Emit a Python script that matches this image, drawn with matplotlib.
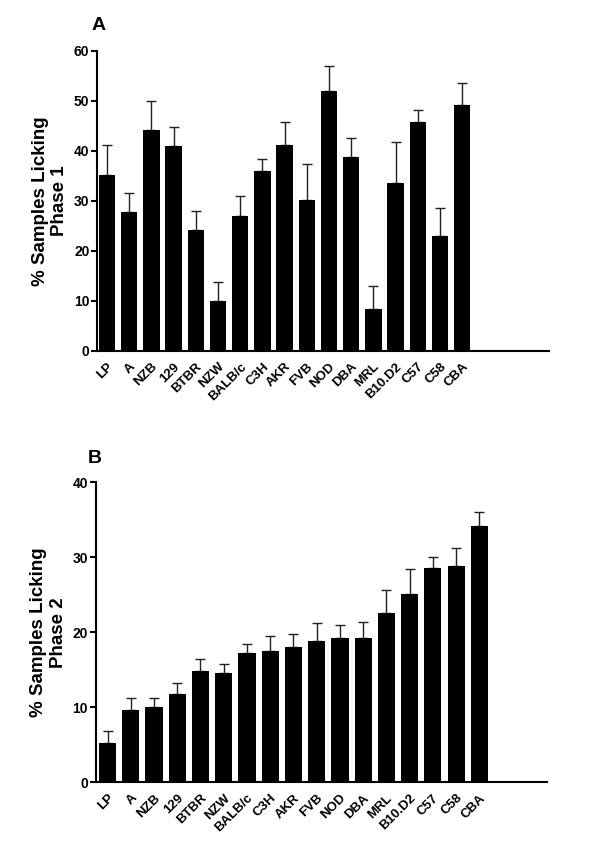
import numpy as np
import matplotlib
matplotlib.use('Agg')
import matplotlib.pyplot as plt

plt.rcParams['font.family'] = ['Liberation Sans', 'DejaVu Sans']
plt.rcParams['font.weight'] = 'bold'

strains_1 = ['LP', 'A', 'NZB', '129', 'BTBR', 'NZW', 'BALB/c', 'C3H', 'AKR', 'FVB',
             'NOD', 'DBA', 'MRL', 'B10.D2', 'C57', 'C58', 'CBA']
phase_1 = [35.2, 27.7, 44.1, 40.9, 24.1, 10.0, 26.9, 35.9, 41.1, 30.1,
           51.9, 38.7, 8.3, 33.5, 45.7, 23.0, 49.2]
phase_1_top = [41.1, 31.5, 49.9, 44.7, 28.0, 13.8, 31.0, 38.4, 45.7, 37.3,
               57.0, 42.5, 12.9, 41.7, 48.1, 28.6, 53.6]

strains_2 = ['LP', 'A', 'NZB', '129', 'BTBR', 'NZW', 'BALB/c', 'C3H', 'AKR', 'FVB',
             'NOD', 'DBA', 'MRL', 'B10.D2', 'C57', 'C58', 'CBA']
phase_2 = [5.2, 9.7, 10.1, 11.8, 14.8, 14.6, 17.2, 17.5, 18.1, 18.9,
           19.2, 19.3, 22.6, 25.1, 28.6, 28.8, 34.2]
phase_2_top = [6.8, 11.3, 11.2, 13.3, 16.4, 15.8, 18.4, 19.5, 19.8, 21.3,
               21.0, 21.4, 25.6, 28.5, 30.0, 31.3, 36.0]

fig = plt.figure(figsize=(6, 8.47), dpi=100)
ax1 = fig.add_axes([0.1617, 0.5856, 0.753, 0.3542])
ax2 = fig.add_axes([0.1595, 0.0764, 0.7517, 0.3542])


def panel(ax, names, vals, tops, ymax, step, xlim, width, ylabel, letter, lpos):
    x = np.arange(len(names))
    vals = np.array(vals)
    err = np.array(tops) - vals
    ax.bar(x, vals, width=width, color='black', zorder=2)
    ax.errorbar(x, vals, yerr=[np.zeros_like(err), err], fmt='none',
                ecolor='#222222', elinewidth=1.0, capsize=3.5, capthick=1.0, zorder=1)
    ax.set_xlim(*xlim)
    ax.set_ylim(0, ymax)
    ax.set_yticks(np.arange(0, ymax + 1, step))
    ax.set_xticks(x)
    ax.set_xticklabels(names, rotation=45, ha='right', rotation_mode='anchor',
                       fontsize=9.5, fontweight='bold')
    ax.tick_params(axis='x', length=0, pad=7)
    ax.tick_params(axis='y', length=4.5, width=1.5, labelsize=10, pad=1)
    for t in ax.get_yticklabels():
        t.set_fontweight('bold')
    for s in ['top', 'right']:
        ax.spines[s].set_visible(False)
    for s in ['left', 'bottom']:
        ax.spines[s].set_linewidth(1.5)
    ax.set_ylabel(ylabel, fontsize=13.5, fontweight='bold', labelpad=4)
    ax.text(lpos[0], lpos[1], letter, transform=ax.transAxes, fontsize=14,
            fontweight='bold', ha='left', va='baseline')


panel(ax1, strains_1, phase_1, phase_1_top, 60, 10, (-0.45, 19.9), 0.74,
      '% Samples Licking\nPhase 1', 'A', (-0.013, 1.069))
panel(ax2, strains_2, phase_2, phase_2_top, 40, 10, (-0.51, 18.9), 0.74,
      '% Samples Licking\nPhase 2', 'B', (-0.017, 1.063))

fig.savefig('out.png', dpi=100)
